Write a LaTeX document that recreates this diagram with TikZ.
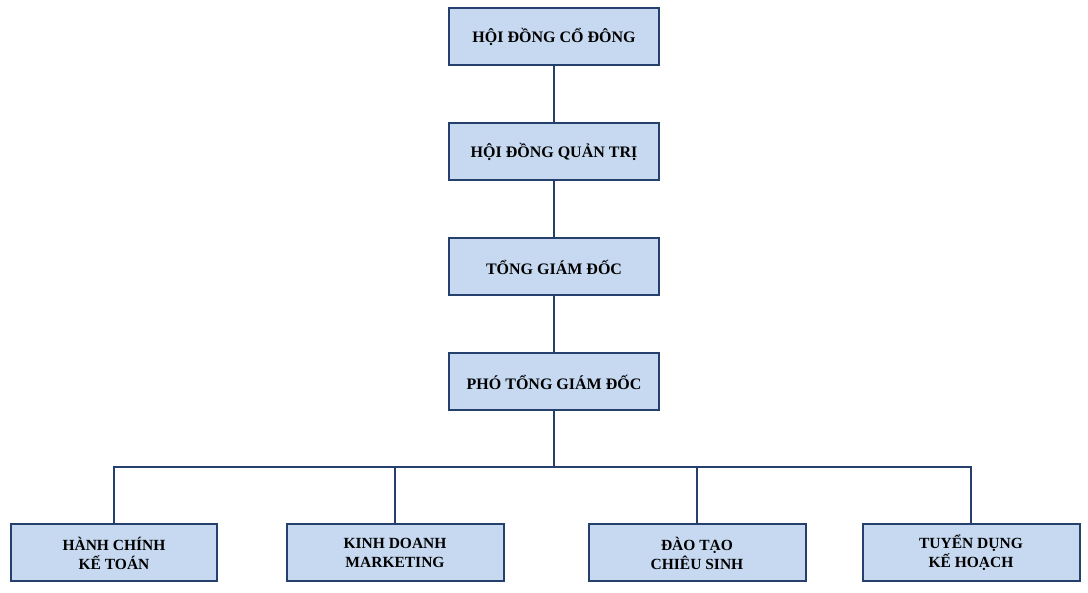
\documentclass[tikz,border=0pt]{standalone}
\usepackage{fontspec}
\setmainfont{Liberation Serif}
\usetikzlibrary{positioning}
\definecolor{boxline}{RGB}{37,64,108}
\definecolor{boxfill}{RGB}{198,217,240}

\begin{document}
\begin{tikzpicture}[
  x=1pt,y=1pt,
  orgbox/.style={
    draw=boxline,
    line width=2pt,
    fill=boxfill,
    minimum width=210pt,
    minimum height=57pt,
    inner sep=0pt,
    align=center,
    font=\fontsize{16}{17}\selectfont\bfseries
  },
  unitbox/.style={
    orgbox,
    minimum width=217pt,
    font=\fontsize{15.5}{19}\selectfont\bfseries
  },
  link/.style={draw=boxline,line width=2pt}
]
\useasboundingbox (0,0) rectangle (1088,593);
\node[orgbox] (hdcd) at (554,556) {HỘI ĐỒNG CỔ ĐÔNG};
\node[orgbox,below=56pt of hdcd] (hdqt) {HỘI ĐỒNG QUẢN TRỊ};
\node[orgbox,below=56pt of hdqt] (tgd) {TỔNG GIÁM ĐỐC};
\node[orgbox,below=56pt of tgd] (ptgd) {PHÓ TỔNG GIÁM ĐỐC};
\node[unitbox,minimum width=206pt] (hckt) at (114,40) {HÀNH CHÍNH\\KẾ TOÁN};
\node[unitbox] (kdmk) at (395,40) {KINH DOANH\\MARKETING};
\node[unitbox] (dtcs) at (697,40) {ĐÀO TẠO\\CHIÊU SINH};
\node[unitbox] (tdkh) at (971,40) {TUYỂN DỤNG\\KẾ HOẠCH};
\draw[link] (hdcd) -- (hdqt);
\draw[link] (hdqt) -- (tgd);
\draw[link] (tgd) -- (ptgd);
\foreach \unit in {hckt,kdmk,dtcs,tdkh}
  \draw[link] (ptgd.south) -- ++(0,-56pt) -| (\unit.north);
\end{tikzpicture}
\end{document}
